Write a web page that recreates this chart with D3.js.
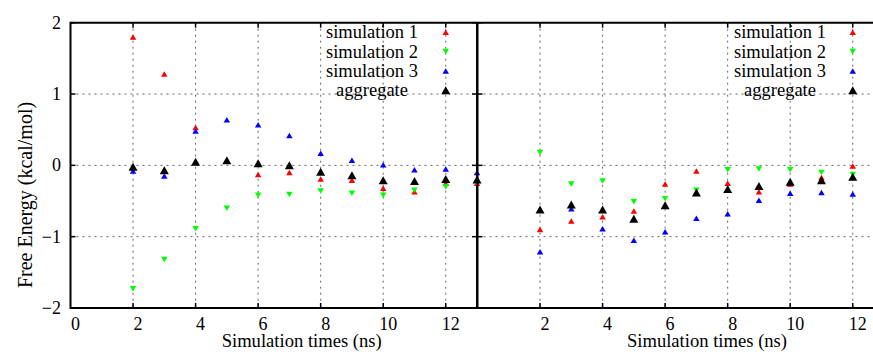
<!DOCTYPE html>
<html>
<head>
<meta charset="utf-8">
<script src="https://cdn.jsdelivr.net/npm/d3@7"></script>
<style>
  body { margin: 0; background: #fff; }
  text { font-family: "Liberation Serif", "Times New Roman", serif; fill: #000; }
</style>
</head>
<body>
<div class="chart"></div>
<script>
var width = 873;
var height = 352;

// data
var seriesNames = ["simulation 1", "simulation 2", "simulation 3", "aggregate"];
var seriesColors = ["#ff0000", "#00ff00", "#0000ff", "#000000"];
var xTicks = [0, 2, 4, 6, 8, 10, 12];
var yTicks = [-2, -1, 0, 1, 2];

var leftTimes = [2, 3, 4, 5, 6, 7, 8, 9, 10, 11, 12, 13];
var leftSim1 = [1.80, 1.28, 0.53, 0.07, -0.13, -0.10, -0.19, -0.21, -0.32, -0.37, -0.25, -0.25];
var leftSim2 = [-1.73, -1.32, -0.89, -0.60, -0.42, -0.41, -0.36, -0.39, -0.42, -0.35, -0.30, -0.25];
var leftSim3 = [-0.08, -0.15, 0.48, 0.64, 0.57, 0.42, 0.17, 0.07, 0.01, -0.06, -0.05, -0.10];
var leftAgg  = [-0.02, -0.07, 0.05, 0.07, 0.03, 0.00, -0.09, -0.14, -0.21, -0.22, -0.19, -0.20];

var rightTimes = [2, 3, 4, 5, 6, 7, 8, 9, 10, 11, 12];
var rightSim1 = [-0.90, -0.78, -0.72, -0.64, -0.26, -0.08, -0.25, -0.37, -0.26, -0.17, -0.01];
var rightSim2 = [0.18, -0.26, -0.22, -0.51, -0.47, -0.35, -0.06, -0.05, -0.06, -0.10, -0.13];
var rightSim3 = [-1.21, -0.61, -0.89, -1.05, -0.93, -0.74, -0.68, -0.49, -0.39, -0.38, -0.40];
var rightAgg  = [-0.62, -0.55, -0.62, -0.75, -0.56, -0.38, -0.33, -0.29, -0.23, -0.21, -0.16];

var plotTop = 22.7, plotBottom = 308;

var svg = d3.select(".chart").append("svg")
    .attr("width", width)
    .attr("height", height);

var y = d3.scaleLinear().domain([-2, 2]).range([plotBottom, plotTop]);

// triangle paths, up or down
function tri(cx, cy, w, h, down) {
    var s = down ? -1 : 1;
    return "M" + (cx - w/2) + "," + (cy + s*h/2) +
           "L" + (cx + w/2) + "," + (cy + s*h/2) +
           "L" + cx + "," + (cy - s*h/2) + "Z";
}
function marker(g, cx, cy, i) {
    var big = i == 3;
    g.append("path")
        .attr("d", tri(cx, cy, big ? 9 : 6.5, big ? 8 : 5.5, i == 1))
        .attr("fill", seriesColors[i]);
}

var drawPanel = function(opts) {
    var x = d3.scaleLinear().domain([0, 13]).range([opts.x0, opts.x0 + 13*31.27]);
    var g = svg.append("g");
    var right = Math.min(x(13), width);

    // grid
    g.selectAll(".gx").data([2, 4, 6, 8, 10, 12]).enter().append("line")
        .attr("x1", function(d) { return x(d); }).attr("x2", function(d) { return x(d); })
        .attr("y1", plotTop).attr("y2", plotBottom)
        .attr("stroke", "#666").attr("stroke-dasharray", "2,4");
    g.selectAll(".gy").data([-1, 0, 1]).enter().append("line")
        .attr("x1", opts.x0).attr("x2", right)
        .attr("y1", function(d) { return y(d); }).attr("y2", function(d) { return y(d); })
        .attr("stroke", "#666").attr("stroke-dasharray", "2,4");

    // tick marks
    [2, 4, 6, 8, 10, 12].forEach(function(d) {
        g.append("line").attr("x1", x(d)).attr("x2", x(d)).attr("y1", plotTop).attr("y2", plotTop + 5).attr("stroke", "#000").attr("stroke-width", 1.5);
        g.append("line").attr("x1", x(d)).attr("x2", x(d)).attr("y1", plotBottom).attr("y2", plotBottom - 5).attr("stroke", "#000").attr("stroke-width", 1.5);
    });
    yTicks.forEach(function(d) {
        g.append("line").attr("x1", opts.x0).attr("x2", opts.x0 + 5).attr("y1", y(d)).attr("y2", y(d)).attr("stroke", "#000").attr("stroke-width", 1.5);
        if (opts.rightBorder)
            g.append("line").attr("x1", right - 5).attr("x2", right).attr("y1", y(d)).attr("y2", y(d)).attr("stroke", "#000").attr("stroke-width", 1.5);
    });

    // border
    var bpath = "M" + right + "," + plotTop + "H" + opts.x0 + "V" + plotBottom + "H" + right;
    if (opts.rightBorder) bpath += "V" + plotTop;
    g.append("path").attr("d", bpath).attr("fill", "none").attr("stroke", "#000").attr("stroke-width", 2);

    // x tick labels
    g.selectAll(".xl").data(opts.xLabels).enter().append("text")
        .attr("x", function(d) { return x(d) + 5; })
        .attr("y", 330)
        .attr("text-anchor", "middle")
        .style("font-size", "18px")
        .text(function(d) { return d; });

    g.append("text")
        .attr("x", opts.titleX).attr("y", 347)
        .attr("text-anchor", "middle")
        .style("font-size", "18.6px")
        .text("Simulation times (ns)");

    // points
    opts.series.forEach(function(vals, i) {
        vals.forEach(function(v, j) {
            marker(g, x(opts.times[j]), y(v), i);
        });
    });

    // legend
    seriesNames.forEach(function(name, i) {
        var ly = 32.3 + i*19.3;
        g.append("text")
            .attr("x", opts.legendX).attr("y", ly + 6)
            .attr("text-anchor", "middle")
            .style("font-size", "18.5px")
            .text(name);
        marker(g, x(12), ly, i);
    });
};

drawPanel({
    x0: 70.5, rightBorder: true,
    times: leftTimes, series: [leftSim1, leftSim2, leftSim3, leftAgg],
    xLabels: xTicks, titleX: 301.7, legendX: 372
});
drawPanel({
    x0: 477.5, rightBorder: false,
    times: rightTimes, series: [rightSim1, rightSim2, rightSim3, rightAgg],
    xLabels: xTicks.slice(1), titleX: 707, legendX: 780
});

// y axis labels
svg.selectAll(".yl").data(yTicks).enter().append("text")
    .attr("x", 61).attr("y", function(d) { return y(d) + 6; })
    .attr("text-anchor", "end")
    .style("font-size", "18px")
    .text(function(d) { return d < 0 ? "\u2212" + Math.abs(d) : d; });

svg.append("text")
    .attr("transform", "translate(32,195) rotate(-90)")
    .attr("text-anchor", "middle")
    .style("font-size", "20px")
    .text("Free Energy (kcal/mol)");
</script>
</body>
</html>
